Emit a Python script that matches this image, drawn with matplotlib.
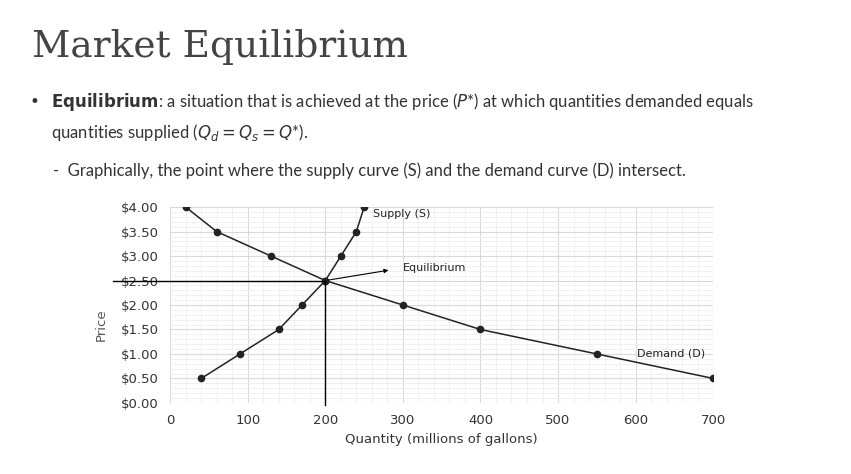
import matplotlib
matplotlib.use("Agg")
import matplotlib.pyplot as plt
from matplotlib.ticker import MultipleLocator

demand_q = [20, 60, 130, 200, 300, 400, 550, 700]
demand_p = [4.0, 3.5, 3.0, 2.5, 2.0, 1.5, 1.0, 0.5]
supply_q = [40, 90, 140, 170, 200, 220, 240, 250]
supply_p = [0.5, 1.0, 1.5, 2.0, 2.5, 3.0, 3.5, 4.0]
eq_q, eq_p = 200, 2.5
price_ticks = [0, 0.5, 1.0, 1.5, 2.0, 2.5, 3.0, 3.5, 4.0]

fig = plt.figure(figsize=(8.51, 4.74), dpi=100)
txt = '#333333'

# slide text
fig.text(0.038, 0.9, 'Market Equilibrium', fontsize=27, color='#444444',
         family='DejaVu Serif', fontweight='light', va='center')
fig.text(0.035, 0.785, '•', fontsize=12, color=txt, va='center')
fig.text(0.06, 0.785, r'$\mathbf{Equilibrium}$: a situation that is achieved at the price ($P$*) at which quantities demanded equals',
         fontsize=12, color=txt, va='center', family='Lato')
fig.text(0.06, 0.72, r'quantities supplied ($Q_d = Q_s = Q$*).', fontsize=12, color=txt,
         va='center', family='Lato')
fig.text(0.062, 0.64, '-  Graphically, the point where the supply curve (S) and the demand curve (D) intersect.',
         fontsize=12, color=txt, va='center', family='Lato')

ax = fig.add_axes([0.2, 0.15, 0.638, 0.413])
ax.set_xlim(0, 700)
ax.set_ylim(0, 4)
ax.xaxis.set_major_locator(MultipleLocator(100))
ax.xaxis.set_minor_locator(MultipleLocator(20))
ax.yaxis.set_major_locator(MultipleLocator(0.5))
ax.yaxis.set_minor_locator(MultipleLocator(0.1))
ax.grid(True, which='major', color='#d9d9d9', linewidth=0.8)
ax.grid(True, which='minor', color='#efefef', linewidth=0.6)
ax.set_axisbelow(True)
for s in ax.spines.values():
    s.set_visible(False)
ax.tick_params(which='both', length=0, labelsize=9.5, colors='#333333', pad=8)
ax.set_yticks(price_ticks)
ax.set_yticklabels([f'${v:.2f}' for v in price_ticks])
ax.set_xlabel('Quantity (millions of gallons)', fontsize=9.5, color='#333333')
ax.set_ylabel('Price', fontsize=9.5, color='#555555', labelpad=2)
ax.yaxis.set_label_coords(-0.115, 0.4)

ax.plot(demand_q, demand_p, color='#222222', lw=1.1, marker='o', ms=4.5)
ax.plot(supply_q, supply_p, color='#222222', lw=1.1, marker='o', ms=4.5)
ax.plot([-0.105 * 700, eq_q], [eq_p, eq_p], color='black', lw=1, clip_on=False)
ax.plot([eq_q, eq_q], [eq_p, -0.05], color='black', lw=1, clip_on=False)
ax.annotate('', xy=(285, 2.72), xytext=(eq_q, eq_p),
            arrowprops=dict(arrowstyle='-|>', color='black', lw=0.8, mutation_scale=6))
ax.text(300, 2.75, 'Equilibrium', fontsize=8, color='#222222', va='center')
ax.text(262, 3.85, 'Supply (S)', fontsize=8, color='#222222', va='center')
ax.text(690, 1.0, 'Demand (D)', fontsize=8, color='#222222', va='center', ha='right')

fig.savefig('out.png', dpi=100)
